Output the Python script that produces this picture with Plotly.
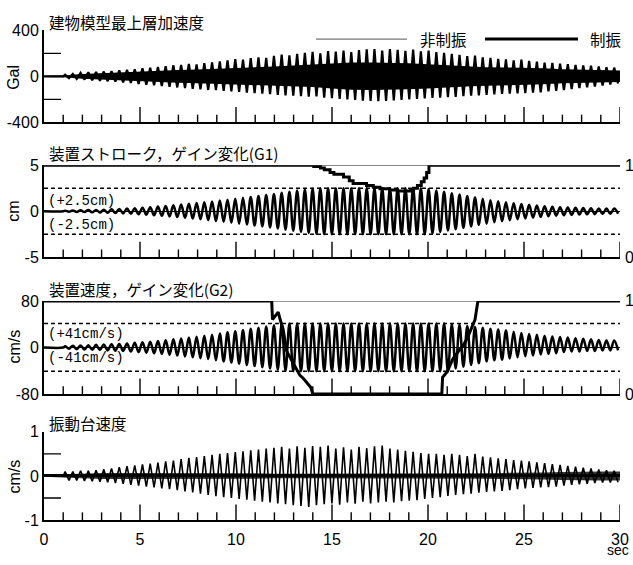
import numpy as np
import plotly.graph_objects as go

# ---------------------------------------------------------------------------
# Time base
# ---------------------------------------------------------------------------
T_END = 30.0          # sec
SIG_START = 1.0       # excitation starts here
X_MAJOR = [0, 5, 10, 15, 20, 25, 30]
X_MINOR = [t for t in range(0, 31) if t % 5]

# ---------------------------------------------------------------------------
# Panel 1 : 建物模型最上層加速度 (Gal) -- per-cycle peaks and dense band
# ---------------------------------------------------------------------------
acc_up = [15, 22, 30, 35, 38, 42, 45, 52, 58, 62,
          70, 76, 82, 88, 96, 100, 108, 104, 115, 122,
          130, 138, 150, 145, 158, 165, 160, 178, 188, 182,
          195, 205, 213, 200, 220, 215, 225, 210, 228, 235,
          238, 225, 236, 230, 222, 232, 218, 225, 210, 205,
          195, 188, 177, 180, 165, 160, 152, 148, 140, 145,
          135, 128, 120, 118, 110, 105, 100, 95, 92, 86,
          80, 76]
acc_dn = [-15, -22, -28, -34, -38, -42, -46, -52, -58, -65,
          -72, -78, -84, -90, -96, -102, -108, -112, -118, -120,
          -125, -130, -135, -140, -146, -150, -155, -160, -165, -168,
          -172, -176, -174, -185, -190, -196, -200, -205, -210, -212,
          -216, -214, -208, -205, -200, -195, -192, -188, -185, -180,
          -178, -172, -168, -166, -160, -156, -152, -150, -148, -146,
          -142, -138, -130, -125, -118, -110, -102, -95, -88, -80,
          -70, -62]
acc_band_t = list(range(0, 31))
acc_band_up = [6, 8, 20, 28, 35, 42, 48, 55, 60, 65, 70, 75, 85, 95, 105, 115,
               120, 120, 120, 115, 105, 95, 85, 80, 78, 75, 70, 62, 58, 52, 50]
acc_band_dn = [-6, -8, -20, -28, -35, -42, -50, -55, -60, -65, -72, -78, -82, -88, -92, -105,
               -115, -118, -118, -112, -105, -95, -88, -82, -78, -75, -68, -60, -55, -50, -48]
ACC_RANGE = [-400, 400]
ACC_TICKS = [-400, -200, 0, 200, 400]
ACC_LABELS = ["-400", "", "0", "", "400"]

# ---------------------------------------------------------------------------
# Panel 2 : 装置ストローク (cm) and gain G1
# ---------------------------------------------------------------------------
stroke_amp = [0.06, 0.08, 0.10, 0.12, 0.14, 0.17, 0.20, 0.24, 0.28, 0.33,
              0.38, 0.44, 0.50, 0.57, 0.64, 0.72, 0.80, 0.88, 0.97, 1.06,
              1.15, 1.25, 1.35, 1.45, 1.55, 1.65, 1.76, 1.88, 2.00, 2.12,
              2.25, 2.36, 2.45, 2.50, 2.50, 2.50, 2.50, 2.50, 2.50, 2.50,
              2.50, 2.50, 2.50, 2.50, 2.50, 2.50, 2.50, 2.40, 2.25, 2.10,
              1.95, 1.80, 1.65, 1.50, 1.35, 1.20, 1.08, 0.97, 0.87, 0.78,
              0.70, 0.62, 0.55, 0.49, 0.44, 0.40, 0.37, 0.34, 0.32, 0.30,
              0.29, 0.28]
STROKE_LIMIT = 2.5
STROKE_RANGE = [-5, 5]
g1_t = [0, 13.95, 14.05, 14.4, 14.6, 14.9, 15.1, 15.6, 15.9, 16.1, 16.8, 17.15,
        17.5, 18.0, 18.4, 18.9, 19.1, 19.25, 19.45, 19.65, 19.8, 19.93, 20.05, 30]
g1_v = [1, 1, 0.985, 0.97, 0.95, 0.92, 0.9, 0.87, 0.83, 0.8, 0.78, 0.76,
        0.745, 0.73, 0.72, 0.72, 0.73, 0.75, 0.78, 0.82, 0.86, 0.92, 1.0, 1.0]

# ---------------------------------------------------------------------------
# Panel 3 : 装置速度 (cm/s) and gain G2
# ---------------------------------------------------------------------------
vel_up = [2, 3, 3.5, 4, 4.5, 5, 5.5, 6, 7, 8,
          9, 10, 11, 12.5, 14, 15.5, 17, 18.5, 20, 22,
          24, 26, 28, 30, 32, 34, 36, 38, 40, 41,
          41, 41, 41, 41, 41, 41, 41, 41, 41, 41,
          41, 41, 41, 41, 41, 41, 41, 41, 41, 41,
          40, 39, 37, 35, 34, 32, 31, 29, 27, 25,
          23, 22, 20, 19, 18, 17, 16, 15, 14, 13,
          12, 12]
vel_dn = [-2, -3, -3.5, -4, -4.5, -5, -5.5, -6, -7, -8,
          -9, -10, -11, -12.5, -14, -15.5, -17, -18.5, -20, -22,
          -24, -26, -28, -30, -32, -34, -36, -38, -40, -41,
          -41, -41, -41, -41, -41, -41, -41, -41, -41, -41,
          -41, -41, -41, -41, -41, -41, -41, -41, -41, -41,
          -36, -33, -30, -27, -24, -22, -21, -19, -17, -15,
          -14, -12, -11, -10, -8, -7, -7, -6, -6, -5,
          -5, -5]
VEL_LIMIT = 41
VEL_RANGE = [-80, 80]
g2_t = [0, 11.86, 11.9, 12.05, 12.2, 12.3, 12.45, 12.64, 12.9, 13.15, 13.33, 13.5,
        13.7, 13.9, 14.0, 20.72, 20.76, 21.0, 21.3, 21.6, 21.85, 22.05, 22.25, 22.45, 22.6, 30]
g2_v = [1, 1, 0.8, 0.84, 0.88, 0.8, 0.7, 0.46, 0.36, 0.26, 0.2, 0.17,
        0.12, 0.07, 0.0, 0.0, 0.18, 0.24, 0.38, 0.46, 0.53, 0.6, 0.7, 0.8, 1.0, 1.0]
GAIN_TICKS = ["0", "1"]

# ---------------------------------------------------------------------------
# Panel 4 : 振動台速度 (cm/s)
# ---------------------------------------------------------------------------
tbl_up = [0.10, 0.10, 0.12, 0.12, 0.13, 0.15, 0.17, 0.20, 0.22, 0.24,
          0.26, 0.28, 0.30, 0.33, 0.35, 0.38, 0.41, 0.43, 0.45, 0.48,
          0.50, 0.52, 0.54, 0.56, 0.58, 0.60, 0.62, 0.64, 0.66, 0.62,
          0.67, 0.64, 0.68, 0.66, 0.69, 0.62, 0.65, 0.60, 0.66, 0.63,
          0.67, 0.69, 0.62, 0.60, 0.57, 0.55, 0.52, 0.50, 0.50, 0.48,
          0.50, 0.48, 0.45, 0.50, 0.44, 0.42, 0.40, 0.38, 0.36, 0.35,
          0.33, 0.31, 0.29, 0.27, 0.25, 0.23, 0.21, 0.19, 0.17, 0.15,
          0.13, 0.12]
tbl_dn = [-0.10, -0.10, -0.11, -0.12, -0.13, -0.14, -0.16, -0.18, -0.20, -0.22,
          -0.24, -0.26, -0.28, -0.30, -0.32, -0.35, -0.37, -0.40, -0.43, -0.46,
          -0.48, -0.50, -0.52, -0.54, -0.56, -0.58, -0.60, -0.62, -0.64, -0.66,
          -0.68, -0.70, -0.66, -0.64, -0.62, -0.65, -0.60, -0.63, -0.58, -0.62,
          -0.60, -0.58, -0.60, -0.57, -0.56, -0.55, -0.52, -0.50, -0.48, -0.45,
          -0.43, -0.41, -0.40, -0.38, -0.36, -0.35, -0.34, -0.32, -0.30, -0.28,
          -0.27, -0.26, -0.25, -0.24, -0.22, -0.20, -0.19, -0.18, -0.16, -0.15,
          -0.15, -0.14]
tbl_band_t = list(range(0, 31))
tbl_band_up = [0.02, 0.04, 0.06, 0.07, 0.07, 0.07, 0.07, 0.07, 0.07, 0.06, 0.06, 0.06, 0.05, 0.05,
               0.05, 0.05, 0.05, 0.05, 0.05, 0.05, 0.05, 0.05, 0.06, 0.06, 0.07, 0.07, 0.08, 0.09,
               0.1, 0.1, 0.1]
tbl_band_dn = [-v for v in tbl_band_up]
TBL_RANGE = [-1, 1]
TBL_TICKS = [-1, -0.5, 0, 0.5, 1]
TBL_LABELS = ["-1", "", "0", "", "1"]


def cycle_trace(up, dn, t0=SIG_START, t1=T_END):
    """Place the per-cycle peaks/troughs on the time axis (quiet before t0)."""
    n = len(up)
    period = (t1 - t0) / n
    idx = np.arange(n)
    t = np.empty(2 * n)
    y = np.empty(2 * n)
    t[0::2] = t0 + (idx + 0.25) * period
    t[1::2] = t0 + (idx + 0.75) * period
    y[0::2] = up
    y[1::2] = dn
    return [0.0, t0] + t.tolist(), [0.0, 0.0] + y.tolist()


def gain_on(rng, g):
    """Gain 0..1 drawn on the panel's own scale (0 = bottom, 1 = top)."""
    lo, hi = rng
    return [lo + (hi - lo) * v for v in g]


H = 565.0
PLOT_W = 576.0


def dom(top_px, bot_px):
    return [1 - bot_px / H, 1 - top_px / H]


D1 = dom(23, 118)
D2 = dom(162, 257)
D3 = dom(302, 398)
D4 = dom(437, 528)

BLACK = "black"
fig = go.Figure()


def add_axis_ticks(xa, ya, d, yticks):
    """Inward tick marks on the time axis and the value axis of one panel."""
    panel_px = (d[1] - d[0]) * H
    for ticks, length in ((X_MAJOR[1:], 16), (X_MINOR, 8)):
        for t in ticks:
            fig.add_shape(type="line", xref=xa, yref=f"{ya} domain", x0=t, x1=t,
                          y0=0, y1=length / panel_px, line=dict(color=BLACK, width=1.4))
    for v in yticks:
        fig.add_shape(type="line", xref=f"{xa} domain", yref=ya, x0=0, x1=17 / PLOT_W,
                      y0=v, y1=v, line=dict(color=BLACK, width=1.4))


# ---- panel 1
fig.add_trace(go.Scatter(x=acc_band_t, y=acc_band_up, xaxis="x", yaxis="y",
                         mode="lines", line=dict(width=0, color=BLACK), hoverinfo="skip"))
fig.add_trace(go.Scatter(x=acc_band_t, y=acc_band_dn, xaxis="x", yaxis="y", fill="tonexty",
                         fillcolor=BLACK, mode="lines", line=dict(width=0, color=BLACK)))
tx, ty = cycle_trace(acc_up, acc_dn)
fig.add_trace(go.Scatter(x=tx, y=ty, xaxis="x", yaxis="y", mode="lines",
                         line=dict(color=BLACK, width=2.2)))
add_axis_ticks("x", "y", D1, [-200, 200])

# ---- panel 2
for lim in (STROKE_LIMIT, -STROKE_LIMIT):
    fig.add_trace(go.Scatter(x=[0, T_END], y=[lim, lim], xaxis="x2", yaxis="y2", mode="lines",
                             line=dict(color=BLACK, width=1.5, dash="4px,3px")))
sx, sy = cycle_trace(stroke_amp, [-a for a in stroke_amp])
fig.add_trace(go.Scatter(x=sx, y=sy, xaxis="x2", yaxis="y2", mode="lines",
                         line=dict(color=BLACK, width=2.5, shape="spline", smoothing=1.0)))
fig.add_trace(go.Scatter(x=[0, T_END], y=gain_on(STROKE_RANGE, [1, 1]), xaxis="x2", yaxis="y2",
                         mode="lines", line=dict(color=BLACK, width=1)))
fig.add_trace(go.Scatter(x=g1_t, y=gain_on(STROKE_RANGE, g1_v), xaxis="x2", yaxis="y2",
                         mode="lines", line=dict(color=BLACK, width=3, shape="hv")))
add_axis_ticks("x2", "y2", D2, [])

# ---- panel 3
for lim in (VEL_LIMIT, -VEL_LIMIT):
    fig.add_trace(go.Scatter(x=[0, T_END], y=[lim, lim], xaxis="x3", yaxis="y3", mode="lines",
                             line=dict(color=BLACK, width=1.5, dash="4px,3px")))
vx, vy = cycle_trace(vel_up, vel_dn)
fig.add_trace(go.Scatter(x=vx, y=vy, xaxis="x3", yaxis="y3", mode="lines",
                         line=dict(color=BLACK, width=2.5, shape="spline", smoothing=1.0)))
fig.add_trace(go.Scatter(x=[0, T_END], y=gain_on(VEL_RANGE, [1, 1]), xaxis="x3", yaxis="y3",
                         mode="lines", line=dict(color=BLACK, width=1)))
fig.add_trace(go.Scatter(x=g2_t, y=gain_on(VEL_RANGE, g2_v), xaxis="x3", yaxis="y3",
                         mode="lines", line=dict(color=BLACK, width=3)))
add_axis_ticks("x3", "y3", D3, [])

# ---- panel 4
fig.add_trace(go.Scatter(x=tbl_band_t, y=tbl_band_up, xaxis="x4", yaxis="y4",
                         mode="lines", line=dict(width=0, color=BLACK), hoverinfo="skip"))
fig.add_trace(go.Scatter(x=tbl_band_t, y=tbl_band_dn, xaxis="x4", yaxis="y4", fill="tonexty",
                         fillcolor="rgba(0,0,0,0.8)", mode="lines", line=dict(width=0, color=BLACK)))
bx, by = cycle_trace(tbl_up, tbl_dn)
fig.add_trace(go.Scatter(x=bx, y=by, xaxis="x4", yaxis="y4", mode="lines",
                         line=dict(color=BLACK, width=1.6)))
add_axis_ticks("x4", "y4", D4, [-0.5, 0.5])

SANS = "Liberation Sans, Arial, sans-serif"
TICKFONT = dict(family=SANS, size=16, color=BLACK)


def xaxis(anchor, labels):
    return dict(domain=[0, 1], range=[0, T_END], anchor=anchor, showline=True, linecolor=BLACK,
                linewidth=2, ticks="", tickmode="array", tickvals=X_MAJOR,
                ticktext=[str(v) for v in X_MAJOR], ticklabelstandoff=4,
                showticklabels=labels, showgrid=False, zeroline=False, tickfont=TICKFONT)


def yaxis(anchor, d, rng, vals, text, zw=1):
    return dict(domain=d, range=rng, anchor=anchor, showline=True, linecolor=BLACK, linewidth=2,
                ticks="", tickvals=vals, ticktext=text, showgrid=False, zeroline=True,
                zerolinecolor=BLACK, zerolinewidth=zw, tickfont=TICKFONT)


fig.update_layout(
    width=633, height=565, showlegend=False,
    margin=dict(l=44, r=13, t=0, b=0),
    paper_bgcolor="white", plot_bgcolor="white",
    xaxis=xaxis("y", False), xaxis2=xaxis("y2", False),
    xaxis3=xaxis("y3", False), xaxis4=xaxis("y4", True),
    yaxis=yaxis("x", D1, ACC_RANGE, ACC_TICKS, ACC_LABELS),
    yaxis2=yaxis("x2", D2, STROKE_RANGE, [-5, 0, 5], ["-5", "0", "5"]),
    yaxis3=yaxis("x3", D3, VEL_RANGE, [-80, 0, 80], ["-80", "0", "80"]),
    yaxis4=yaxis("x4", D4, TBL_RANGE, TBL_TICKS, TBL_LABELS, zw=2.5),
)

JP = "Noto Sans CJK JP, sans-serif"
MONO = "Liberation Mono, DejaVu Sans Mono, monospace"


def px_x(px):
    return (px - 44) / PLOT_W


def px_y(py):
    return 1 - py / H


notes = [
    ("建物模型最上層加速度", 47, 14, JP, 15.5),
    ("装置ストローク，ゲイン変化(G1)", 47, 150, JP, 15.5),
    ("装置速度，ゲイン変化(G2)", 47, 290, JP, 15.5),
    ("振動台速度", 47, 428, JP, 15.5),
    ("(+2.5cm)", 46, 199, MONO, 14),
    ("(-2.5cm)", 46, 224, MONO, 14),
    ("(+41cm/s)", 46, 336, MONO, 14),
    ("(-41cm/s)", 46, 361, MONO, 14),
]
for text, x, y, fam, size in notes:
    fig.add_annotation(text=text, xref="paper", yref="paper", x=px_x(x), y=px_y(y),
                       xanchor="left", yanchor="middle", showarrow=False,
                       font=dict(family=fam, size=size, color=BLACK))

# right-hand gain scale (0 at the bottom of the panel, 1 at the top)
for d in (D2, D3):
    for frac, label in zip(d, GAIN_TICKS):
        fig.add_annotation(text=label, xref="paper", yref="paper", x=1.0, y=frac,
                           xanchor="left", yanchor="middle", xshift=3, showarrow=False,
                           font=TICKFONT)

for text, y in [("Gal", 72), ("cm", 210), ("cm/s", 349), ("cm/s", 483)]:
    fig.add_annotation(text=text, xref="paper", yref="paper", x=px_x(14), y=px_y(y),
                       xanchor="center", yanchor="middle", textangle=-90, showarrow=False,
                       font=dict(family=SANS, size=16, color=BLACK))

fig.add_annotation(text="sec", xref="paper", yref="paper", x=px_x(618), y=px_y(559),
                   xanchor="center", yanchor="middle", showarrow=False,
                   font=dict(family=SANS, size=14, color=BLACK))

# legend
fig.add_shape(type="line", xref="paper", yref="paper", x0=px_x(316), x1=px_x(407),
              y0=px_y(32), y1=px_y(32), line=dict(color="#777777", width=1.2))
fig.add_shape(type="line", xref="paper", yref="paper", x0=px_x(485), x1=px_x(578),
              y0=px_y(32), y1=px_y(32), line=dict(color=BLACK, width=3))
fig.add_annotation(text="非制振", xref="paper", yref="paper", x=px_x(418), y=px_y(32),
                   xanchor="left", yanchor="middle", showarrow=False,
                   font=dict(family=JP, size=15.5, color=BLACK))
fig.add_annotation(text="制振", xref="paper", yref="paper", x=px_x(588), y=px_y(32),
                   xanchor="left", yanchor="middle", showarrow=False,
                   font=dict(family=JP, size=15.5, color=BLACK))

fig.write_html("out.html")
